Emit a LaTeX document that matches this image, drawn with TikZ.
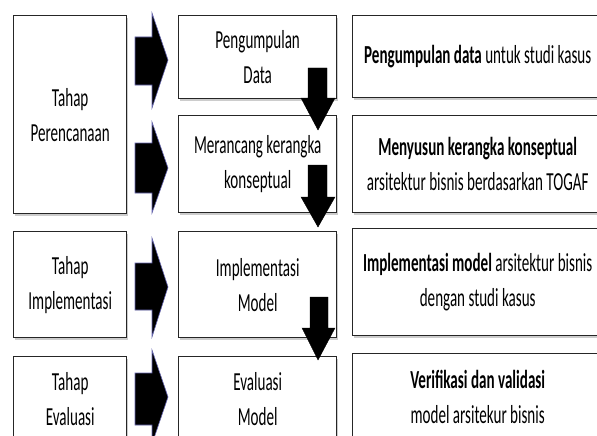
\documentclass[tikz,border=0pt]{standalone}
\usepackage{fontspec}
\setmainfont[FakeStretch=0.58]{Carlito}
\usetikzlibrary{shadows}
\tikzset{
  box/.style={draw=black!85, line width=1.4pt, fill=white, anchor=north west,
    align=center, inner sep=0pt, font=\fontsize{26}{35}\selectfont,
    drop shadow={opacity=0.4, shadow xshift=1.5pt, shadow yshift=-2.5pt}},
  blockarrow/.style={fill=black, draw=black!50!blue!60, line width=0.6pt},
  downarrow/.style={fill=black, draw=black, line width=0.4pt}
}
\begin{document}
\begin{tikzpicture}[x=1pt,y=-1pt]
\clip (0,0) rectangle (597,436);
\fill[white] (0,0) rectangle (597,436);
% left column
\node[box, minimum width=113pt, minimum height=198pt] (l1) at (13,15) {Tahap\\Perencanaan};
\node[box, minimum width=113pt, minimum height=106pt] (l2) at (13,231) {Tahap\\Implementasi};
\node[box, minimum width=113pt, minimum height=84pt] (l3) at (13,356) {Tahap\\Evaluasi};
% middle column
\node[box, minimum width=158pt, minimum height=83pt] (m1) at (178,15) {Pengumpulan\\Data};
\node[box, minimum width=158pt, minimum height=97pt] (m2) at (178,115) {Merancang kerangka\\konseptual};
\node[box, minimum width=158pt, minimum height=106pt] (m3) at (178,231) {Implementasi\\Model};
\node[box, minimum width=158pt, minimum height=84pt] (m4) at (178,356) {Evaluasi\\Model};
% right column
\node[box, minimum width=250pt, minimum height=82pt] (r1) at (352,15) {\textbf{Pengumpulan data} untuk studi kasus};
\node[box, minimum width=250pt, minimum height=97pt] (r2) at (352,115) {\textbf{Menyusun kerangka konseptual}\\arsitektur bisnis berdasarkan TOGAF};
\node[box, minimum width=250pt, minimum height=107pt] (r3) at (352,228) {\textbf{Implementasi model} arsitektur bisnis\\dengan studi kasus};
\node[box, minimum width=250pt, minimum height=87pt] (r4) at (352,353) {\textbf{Verifikasi dan validasi}\\model arsitekur bisnis};
% right block arrows
\draw[blockarrow] (135,37) -- (152,37) -- (152,13) -- (168,60) -- (152,108) -- (152,85) -- (135,85) -- cycle;
\draw[blockarrow] (135,143) -- (152,143) -- (152,122) -- (168,168) -- (152,213) -- (152,193) -- (135,193) -- cycle;
\draw[blockarrow] (135,263) -- (152,263) -- (152,238) -- (168,287) -- (152,337) -- (152,310) -- (135,310) -- cycle;
\draw[blockarrow] (135,373) -- (152,373) -- (152,350) -- (168,397) -- (152,444) -- (152,425) -- (135,425) -- cycle;
% down arrows
\draw[downarrow] (308,68) -- (327,68) -- (327,98) -- (335,98) -- (318,130) -- (301,98) -- (308,98) -- cycle;
\draw[downarrow] (308,165) -- (327,165) -- (327,197) -- (335,197) -- (318,227) -- (301,197) -- (308,197) -- cycle;
\draw[downarrow] (310,297) -- (328,297) -- (328,328) -- (335,328) -- (318,360) -- (302,328) -- (310,328) -- cycle;
\end{tikzpicture}
\end{document}
